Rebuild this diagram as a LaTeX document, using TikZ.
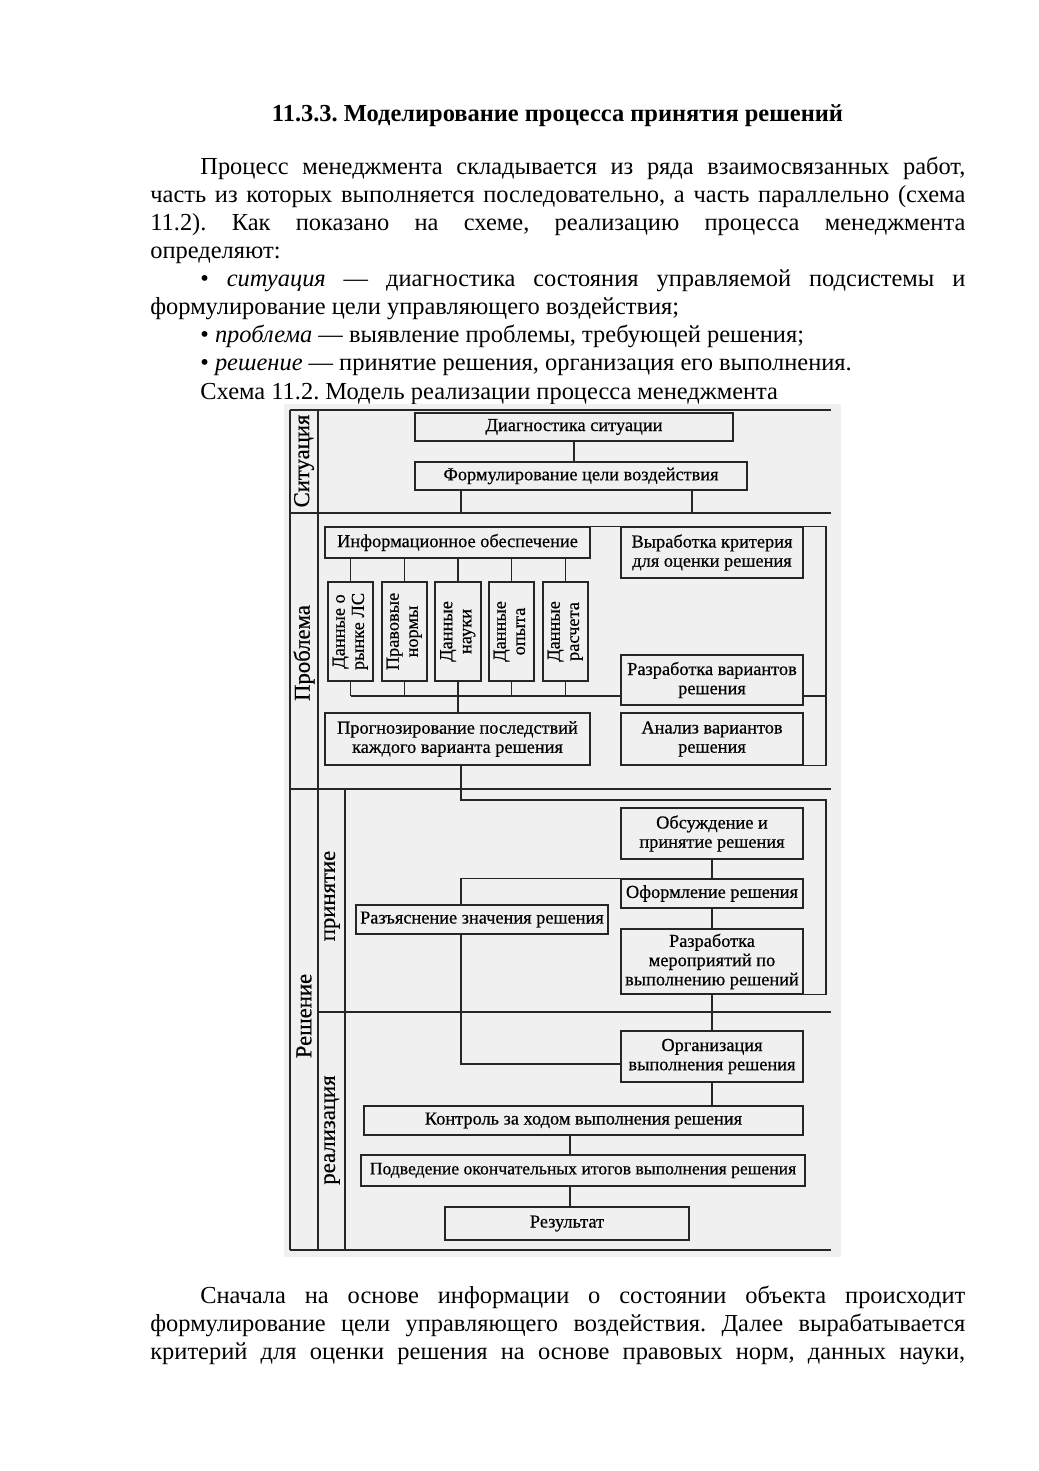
\documentclass[tikz,border=0pt]{standalone}
\usepackage{fontspec}
\usepackage{graphicx}
\setmainfont{Liberation Serif}
\newfontfamily\dfont{Liberation Serif}[FakeBold=0.5]
\frenchspacing
\newlength\px \setlength\px{0.5727pt}
\colorlet{ln}{black!85}
\colorlet{bgd}{black!6}
\tikzset{
 box/.style={draw=ln, line width=0.65pt, fill=bgd, inner sep=0pt, align=center, font=\dfont\fontsize{10.5}{11}\selectfont},
 lab/.style={rotate=90, inner sep=0pt, font=\dfont\fontsize{13}{13}\selectfont},
 conn/.style={draw=ln, line width=0.65pt},
 frm/.style={draw=ln, line width=0.75pt},
 txt/.style={anchor=base west, inner sep=0pt, font=\fontsize{14}{16}\selectfont},
}
\newcommand\bx[6]{\node[box, minimum width=\dimexpr#4\px-#2\px\relax, minimum height=\dimexpr#5\px-#3\px\relax] (#1) at ({(#2+#4)/2},{(#3+#5)/2}) {#6};}
\newcommand\vbx[6]{\node[box, minimum width=\dimexpr#4\px-#2\px\relax, minimum height=\dimexpr#5\px-#3\px\relax] (#1) at ({(#2+#4)/2},{(#3+#5)/2}) {\rotatebox{90}{\begin{tabular}{@{}c@{}}#6\end{tabular}}};}
\begin{document}
\begin{tikzpicture}[x=0.5727pt, y=-0.5727pt]
\useasboundingbox (0,0) rectangle (1039,1471);
\fill[white] (0,0) rectangle (1039,1471);
% text
\node[anchor=base, inner sep=0pt, font=\bfseries\fontsize{14}{16}\selectfont] (title) at (557.5,122) {11.3.3. Моделирование процесса принятия решений};
\node[txt] (p1) at (200,175) {\makebox[765\px][s]{Процесс менеджмента складывается из ряда взаимосвязанных работ,}};
\node[txt] (p2) at (150,203) {\makebox[815\px][s]{часть из которых выполняется последовательно, а часть параллельно (схема}};
\node[txt] (p3) at (150,231) {\makebox[815\px][s]{11.2). Как показано на схеме, реализацию процесса менеджмента}};
\node[txt] (p4) at (150,259) {определяют:};
\node[txt] (p5) at (200,287) {\makebox[765\px][s]{• \textit{ситуация} — диагностика состояния управляемой подсистемы и}};
\node[txt] (p6) at (150,315) {формулирование цели управляющего воздействия;};
\node[txt] (p7) at (200,343) {• \textit{проблема} — выявление проблемы, требующей решения;};
\node[txt] (p8) at (200,371) {• \textit{решение} — принятие решения, организация его выполнения.};
\node[txt] (p9) at (200,399) {Схема 11.2. Модель реализации процесса менеджмента};
\node[txt] (b1) at (200,1303) {\makebox[765\px][s]{Сначала на основе информации о состоянии объекта происходит}};
\node[txt] (b2) at (150,1331) {\makebox[815\px][s]{формулирование цели управляющего воздействия. Далее вырабатывается}};
\node[txt] (b3) at (150,1359) {\makebox[815\px][s]{критерий для оценки решения на основе правовых норм, данных науки,}};
% diagram background
\fill[bgd] (284,404) rectangle (841,1257);
% frame
\draw[frm] (290,410) -- (831,410);
\draw[frm] (290,410) -- (290,1250);
\draw[frm] (318,410) -- (318,1250);
\draw[frm] (290,513) -- (831,513);
\draw[frm] (290,789) -- (831,789);
\draw[frm] (345,789) -- (345,1250);
\draw[frm] (318,1012) -- (831,1012);
\draw[frm] (290,1250) -- (831,1250);
% labels
\node[lab] (lsit) at (304,461) {Ситуация};
\node[lab] (lprob) at (304,653) {Проблема};
\node[lab] (lres) at (304,1016) {Решение};
\node[lab] (lprin) at (332,896) {принятие};
\node[lab] (lreal) at (332,1130) {реализация};
% boxes
\bx{diag}{415}{413}{733}{441}{Диагностика ситуации}
\bx{form}{415}{462}{747}{490}{Формулирование цели воздействия}
\bx{info}{325}{527}{590}{558}{Информационное обеспечение}
\bx{crit}{621}{527}{803}{578}{Выработка критерия\\для оценки решения}
\vbx{d1}{328}{582}{373}{681}{Данные о\\рынке ЛС}
\vbx{d2}{382}{582}{427}{681}{Правовые\\нормы}
\vbx{d3}{435}{582}{481}{681}{Данные\\науки}
\vbx{d4}{489}{582}{534}{681}{Данные\\опыта}
\vbx{d5}{543}{582}{588}{681}{Данные\\расчета}
\bx{razv}{621}{655}{803}{705}{Разработка вариантов\\решения}
\bx{prog}{325}{713}{590}{765}{Прогнозирование последствий\\каждого варианта решения}
\bx{anal}{621}{713}{803}{765}{Анализ вариантов\\решения}
\bx{obs}{621}{808}{803}{859}{Обсуждение и\\принятие решения}
\bx{ofr}{621}{879}{803}{908}{Оформление решения}
\bx{ras}{356}{905}{608}{934}{Разъяснение значения решения}
\bx{razm}{621}{929}{803}{994}{Разработка\\мероприятий по\\выполнению решений}
\bx{org}{621}{1031}{803}{1082}{Организация\\выполнения решения}
\bx{kon}{364}{1106}{803}{1135}{Контроль за ходом выполнения решения}
\bx{pod}{361}{1155}{805}{1186}{\fontsize{10.1}{11}\selectfont Подведение окончательных итогов выполнения решения}
\bx{res}{445}{1207}{689}{1240}{Результат}
% helper coordinates
\coordinate (rc) at (826,0);
\coordinate (hy) at (0,696);
\coordinate (cy) at (0,800);
\coordinate (c461) at (461,0);
\coordinate (c692) at (692,0);
\coordinate (c570) at (570,0);
\coordinate (c712) at (712,0);
\coordinate (y1064) at (0,1064);
\coordinate (ySit) at (0,513);
% connectors
\draw[conn] (diag.south) -- (diag.south |- form.north);
\draw[conn] (form.south -| c461) -- (c461 |- ySit);
\draw[conn] (form.south -| c692) -- (c692 |- ySit);
\foreach \d in {d1,d2,d3,d4,d5}{
  \draw[conn] (info.south -| \d.north) -- (\d.north);
  \draw[conn] (\d.south) -- (\d.south |- hy);
}
\draw[conn] (d1.south |- hy) -- (razv.west |- hy);
\draw[conn] (razv.east |- hy) -- (rc |- hy);
\draw[conn] (d3.south |- hy) -- (prog.north -| d3.south);
\draw[conn] (info.north east) -- (rc |- info.north) -- (rc |- anal.south) -- (anal.south east);
\draw[conn] (prog.south -| c461) -- (c461 |- cy) -- (rc |- cy) -- (rc |- razm.south) -- (razm.south east);
\draw[conn] (obs.south -| c712) -- (ofr.north -| c712);
\draw[conn] (ofr.north west) -- (c461 |- ofr.north) -- (c461 |- ras.north);
\draw[conn] (c461 |- ras.south) -- (c461 |- y1064) -- (org.west |- y1064);
\draw[conn] (ofr.south -| c712) -- (razm.north -| c712);
\draw[conn] (razm.south -| c712) -- (org.north -| c712);
\draw[conn] (org.south -| c712) -- (kon.north -| c712);
\draw[conn] (kon.south -| c570) -- (pod.north -| c570);
\draw[conn] (pod.south -| c570) -- (res.north -| c570);
\end{tikzpicture}
\end{document}
